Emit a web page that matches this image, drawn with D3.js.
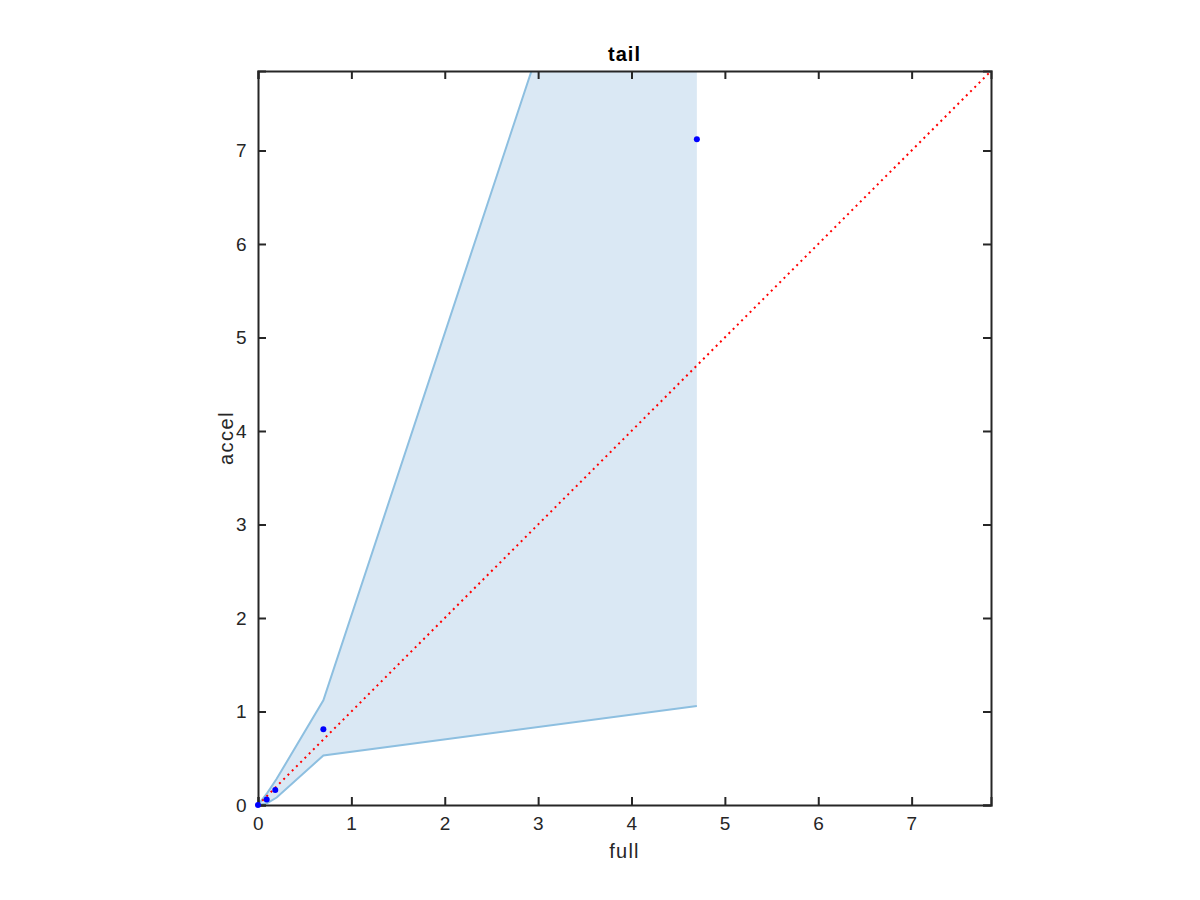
<!DOCTYPE html>
<html>
<head>
<meta charset="utf-8">
<script src="https://cdn.jsdelivr.net/npm/d3@7"></script>
<style>
  body { margin: 0; background: #fff; }
  text { font-family: "Liberation Sans", Arial, sans-serif; }
</style>
</head>
<body>
<div id="chart"></div>
<script>
// measured values
const fullVals  = [0, 0.093, 0.185, 0.70, 4.70];
const accelVals = [0, 0.06, 0.16, 0.81, 7.12];
const bandX     = [0, 0.1, 0.2, 0.7, 4.7];
const bandUpper = [0, 0.13, 0.28, 1.12, 13.2];
const bandLower = [0, 0.02, 0.08, 0.53, 1.06];
const ticks = [0, 1, 2, 3, 4, 5, 6, 7];
const axisMax = 7.85;

const width = 1200, height = 900;
const margin = {left: 258, top: 71, right: 1200 - 991, bottom: 900 - 805};
const iw = width - margin.left - margin.right;
const ih = height - margin.top - margin.bottom;

const svg = d3.select('#chart').append('svg')
    .attr('width', width)
    .attr('height', height);

const x = d3.scaleLinear().domain([0, axisMax]).range([0, iw]);
const y = d3.scaleLinear().domain([0, axisMax]).range([ih, 0]);

svg.append('defs').append('clipPath').attr('id', 'clip')
    .append('rect').attr('width', iw).attr('height', ih);

const g = svg.append('g').attr('transform', `translate(${margin.left},${margin.top})`);
const plot = g.append('g').attr('clip-path', 'url(#clip)');

const band = bandX.map((v, i) => ({x: v, lo: bandLower[i], hi: bandUpper[i]}));

plot.append('path')
    .datum(band)
    .attr('fill', '#dae8f4')
    .attr('d', d3.area().x(d => x(d.x)).y0(d => y(d.lo)).y1(d => y(d.hi)));

const edge = key => d3.line().x(d => x(d.x)).y(d => y(d[key]));
['hi', 'lo'].forEach(k => {
    plot.append('path')
        .datum(band)
        .attr('fill', 'none')
        .attr('stroke', '#8dbfe0')
        .attr('stroke-width', 2)
        .attr('d', edge(k));
});

// identity line
plot.append('line')
    .attr('x1', x(0)).attr('y1', y(0))
    .attr('x2', x(axisMax)).attr('y2', y(axisMax))
    .attr('stroke', '#ff0000')
    .attr('stroke-width', 2)
    .attr('stroke-dasharray', '2,4');

// axes
const axColor = '#262626';
const tl = 8;
const xb = g.append('g').attr('transform', `translate(0,${ih})`)
    .call(d3.axisBottom(x).tickValues(ticks).tickSize(-tl).tickPadding(12).tickFormat(d3.format('d')));
const xt = g.append('g')
    .call(d3.axisTop(x).tickValues(ticks).tickSize(-tl).tickFormat(''));
const yl = g.append('g')
    .call(d3.axisLeft(y).tickValues(ticks).tickSize(-tl).tickPadding(11).tickFormat(d3.format('d')));
const yr = g.append('g').attr('transform', `translate(${iw},0)`)
    .call(d3.axisRight(y).tickValues(ticks).tickSize(-tl).tickFormat(''));

[xb, xt, yl, yr].forEach(a => {
    a.select('.domain').attr('stroke', axColor).attr('stroke-width', 2);
    a.selectAll('.tick line').attr('stroke', axColor).attr('stroke-width', 2);
    a.selectAll('.tick text').attr('fill', axColor)
        .style('font-size', '19px').style('letter-spacing', '0.5px');
});

// markers drawn unclipped
g.append('g').selectAll('circle')
    .data(fullVals.map((v, i) => [v, accelVals[i]]))
    .join('circle')
    .attr('cx', d => x(d[0]))
    .attr('cy', d => y(d[1]))
    .attr('r', 3)
    .attr('fill', '#0000ff');

g.append('text')
    .attr('x', iw / 2).attr('y', ih + 53)
    .attr('text-anchor', 'middle')
    .attr('fill', axColor)
    .style('font-size', '20px')
    .style('letter-spacing', '1.2px')
    .text('full');

g.append('text')
    .attr('transform', `translate(-25,${ih / 2}) rotate(-90)`)
    .attr('text-anchor', 'middle')
    .attr('fill', axColor)
    .style('font-size', '20px')
    .style('letter-spacing', '1.5px')
    .text('accel');

g.append('text')
    .attr('x', iw / 2).attr('y', -10)
    .attr('text-anchor', 'middle')
    .attr('fill', '#000')
    .style('font-size', '20px')
    .style('font-weight', 'bold')
    .style('letter-spacing', '1px')
    .text('tail');
</script>
</body>
</html>
